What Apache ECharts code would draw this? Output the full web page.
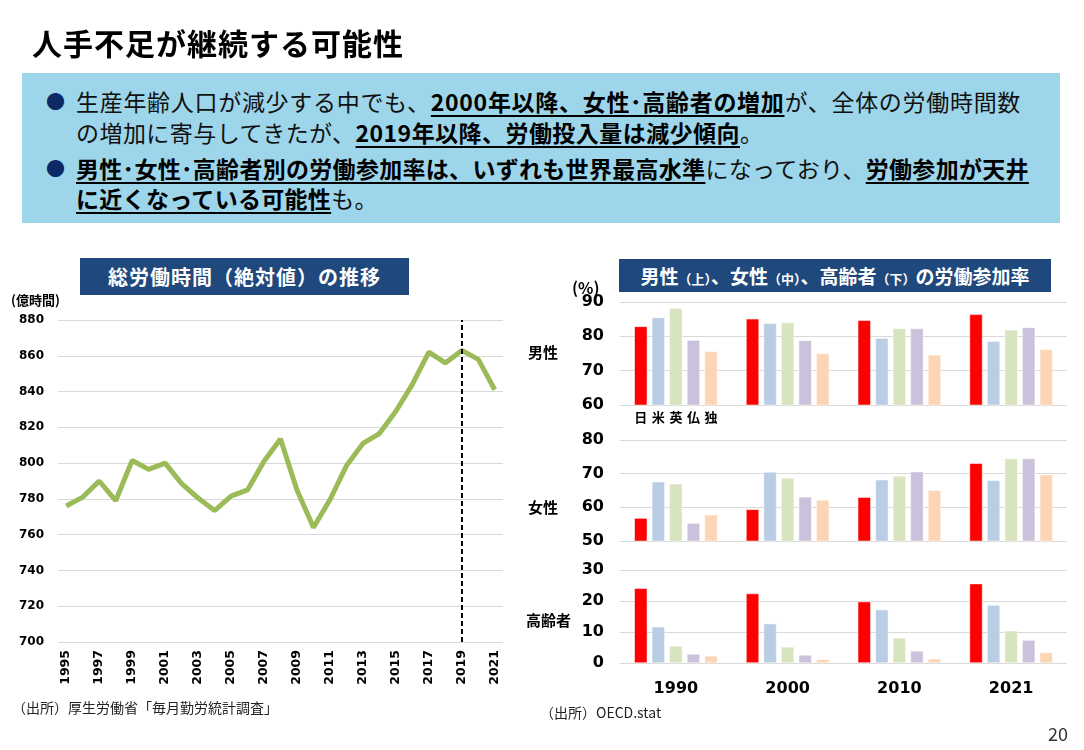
<!DOCTYPE html>
<html>
<head>
<meta charset="utf-8">
<script src="https://cdn.jsdelivr.net/npm/echarts@6/dist/echarts.min.js"></script>
<style>
body { margin: 0; background: #fff; font-family: "Noto Sans CJK JP", sans-serif; color: #111; }
#page { position: relative; width: 1084px; height: 750px; overflow: hidden; }
#chart { position: absolute; left: 0; top: 0; width: 1084px; height: 750px; }
.t { position: absolute; white-space: nowrap; }
.title { left: 32px; top: 22px; font-size: 30px; line-height: 40px; font-weight: 700; color: #000; letter-spacing: 1px; }
.box { position: absolute; left: 22px; top: 73px; width: 1038px; height: 150px; background: #9DD5EA; }
.ln { font-size: 23px; line-height: 30px; left: 76px; letter-spacing: 0.3px; }
.ln b { font-weight: 700; color: #000; text-decoration: underline; text-decoration-thickness: 2px; text-underline-offset: 4px; }
.dot { left: 46px; font-size: 19px; line-height: 30px; color: #0B2A66; }
.hdr { position: absolute; background: #1F497D; color: #fff; font-weight: 700; text-align: center; white-space: nowrap; }
.hdr small { font-size: 13px; }
.lbl { font-weight: 700; color: #000; }
.src { font-size: 14px; line-height: 18px; color: #222; }
</style>
</head>
<body>
<div id="page">
  <div id="chart"></div>
  <div class="t title">人手不足が継続する可能性</div>
  <div class="box"></div>
  <div class="t dot" style="top:86px">●</div>
  <div class="t ln" style="top:86px;letter-spacing:0.7px">生産年齢人口が減少する中でも、<b>2000年以降、女性･高齢者の増加</b>が、全体の労働時間数</div>
  <div class="t ln" style="top:117px;letter-spacing:0.45px">の増加に寄与してきたが、<b>2019年以降、労働投入量は減少傾向</b>。</div>
  <div class="t dot" style="top:153px">●</div>
  <div class="t ln" style="top:153px"><b>男性･女性･高齢者別の労働参加率は、いずれも世界最高水準</b>になっており、<b>労働参加が天井</b></div>
  <div class="t ln" style="top:183px"><b>に近くなっている可能性</b>も。</div>

  <div class="hdr" style="left:80px;top:258px;width:329px;height:37px;line-height:37px;font-size:20px;letter-spacing:1px;">総労働時間（絶対値）の推移</div>
  <div class="hdr" style="left:619px;top:259px;width:432px;height:33px;line-height:33px;font-size:19px;">男性<small>（上）</small>、女性<small>（中）</small>、高齢者<small>（下）</small>の労働参加率</div>

  <div class="t lbl" style="left:11px;top:291px;font-size:13px;line-height:18px;">(億時間)</div>
  <div class="t lbl" style="left:572px;top:277px;font-size:16px;line-height:20px;">(%)</div>
  <div class="t lbl" style="left:528px;top:342px;font-size:15px;line-height:20px;">男性</div>
  <div class="t lbl" style="left:528px;top:497px;font-size:15px;line-height:20px;">女性</div>
  <div class="t lbl" style="left:526px;top:610px;font-size:15px;line-height:20px;">高齢者</div>

  <div class="t src" style="left:12px;top:698px;">（出所）厚生労働省「毎月勤労統計調査」</div>
  <div class="t src" style="left:540px;top:703px;">（出所）OECD.stat</div>
  <div class="t" style="left:1048px;top:722px;font-size:18px;line-height:22px;color:#333;">20</div>
</div>
<script>
// 総労働時間（億時間）
var years = ['1995','1996','1997','1998','1999','2000','2001','2002','2003','2004','2005','2006','2007',
             '2008','2009','2010','2011','2012','2013','2014','2015','2016','2017','2018','2019','2020','2021'];
var hours = [776, 781, 790, 779, 801.5, 796.5, 800, 788.5, 780.5, 773.5, 781.5, 785, 801,
             813.5, 785, 764, 779.5, 798.5, 811, 816.5, 829, 844, 862, 856, 863, 858, 841];
var markYear = '2019';

// 労働参加率（%）
var barYears = ['1990', '2000', '2010', '2021'];
var countries = ['日', '米', '英', '仏', '独'];
var countryColors = ['#FF0000', '#B9CDE5', '#D7E4BD', '#CCC1DA', '#FCD5B5'];

var menJapan   = [82.9, 85.1, 84.7, 86.4];
var menUS      = [85.5, 83.8, 79.5, 78.6];
var menUK      = [88.2, 84.0, 82.3, 81.9];
var menFrance  = [78.9, 78.8, 82.3, 82.6];
var menGermany = [75.6, 75.0, 74.6, 76.2];

var womenJapan   = [56.8, 59.4, 63.0, 73.1];
var womenUS      = [67.6, 70.5, 68.2, 68.0];
var womenUK      = [67.0, 68.7, 69.3, 74.5];
var womenFrance  = [55.3, 63.1, 70.6, 74.5];
var womenGermany = [57.8, 62.2, 65.1, 69.7];

var oldJapan   = [24.1, 22.4, 19.8, 25.6];
var oldUS      = [11.7, 12.7, 17.2, 18.7];
var oldUK      = [5.5, 5.2, 8.1, 10.4];
var oldFrance  = [2.9, 2.6, 3.9, 7.4];
var oldGermany = [2.3, 1.2, 1.4, 3.4];

var panels = [
    { data: [menJapan, menUS, menUK, menFrance, menGermany], min: 60, max: 90 },
    { data: [womenJapan, womenUS, womenUK, womenFrance, womenGermany], min: 50, max: 80 },
    { data: [oldJapan, oldUS, oldUK, oldFrance, oldGermany], min: 0, max: 30 }
];
var panelTops = [302, 440, 570];
var panelHeights = [103, 101, 93];

var numFont = 'DejaVu Sans';
var gridColor = '#D9D9D9';

var myChart = echarts.init(document.getElementById('chart'));

var grids = [{ left: 58, top: 320, width: 445, height: 322 }];
var xAxes = [{
    type: 'category', gridIndex: 0, data: years, boundaryGap: true,
    axisLine: { show: false }, axisTick: { show: false },
    axisLabel: { rotate: 90, interval: 1, margin: 8, color: '#000', fontFamily: numFont, fontWeight: 'bold', fontSize: 12.5 }
}];
var yAxes = [{
    type: 'value', gridIndex: 0, min: 700, max: 880, interval: 20,
    axisLine: { show: false }, axisTick: { show: false },
    splitLine: { lineStyle: { color: gridColor, width: 1 } },
    axisLabel: { margin: 14, color: '#000', fontFamily: numFont, fontWeight: 'bold', fontSize: 12 }
}];
var series = [{
    type: 'line', xAxisIndex: 0, yAxisIndex: 0, data: hours,
    showSymbol: false, symbol: 'none',
    lineStyle: { color: '#9BBB59', width: 5 },
    markLine: {
        silent: true, symbol: ['none', 'none'],
        label: { show: false },
        lineStyle: { color: '#000', type: [5, 3], width: 2 },
        data: [{ xAxis: markYear }]
    }
}];

panels.forEach(function (p, g) {
    var gi = g + 1;
    grids.push({ left: 620, top: panelTops[g], width: 447, height: panelHeights[g] });
    xAxes.push({
        type: 'category', gridIndex: gi, data: barYears,
        axisLine: { show: false }, axisTick: { show: false },
        axisLabel: { show: g === 2, margin: 18, color: '#000', fontFamily: numFont, fontWeight: 'bold', fontSize: 16 }
    });
    yAxes.push({
        type: 'value', gridIndex: gi, min: p.min, max: p.max, interval: 10,
        axisLine: { show: false }, axisTick: { show: false },
        splitLine: { lineStyle: { color: gridColor, width: 1 } },
        axisLabel: { margin: 16, color: '#000', fontFamily: numFont, fontWeight: 'bold', fontSize: 16 }
    });
    p.data.forEach(function (vals, c) {
        var d = vals.slice();
        if (g === 0) {
            // 国名ラベルは1990年の棒の下に
            d[0] = {
                value: vals[0],
                label: { show: true, position: 'bottom', distance: 5, formatter: countries[c],
                         color: '#000', fontWeight: 'bold', fontSize: 13, fontFamily: 'Noto Sans CJK JP' }
            };
        }
        series.push({
            type: 'bar', name: countries[c], xAxisIndex: gi, yAxisIndex: gi,
            barWidth: 13, barGap: '35%',
            itemStyle: { color: countryColors[c], borderColor: '#fff', borderWidth: 0.5 },
            data: d
        });
    });
});

var option = {
    animation: false,
    backgroundColor: 'transparent',
    grid: grids,
    xAxis: xAxes,
    yAxis: yAxes,
    series: series
};
myChart.setOption(option);
</script>
</body>
</html>
